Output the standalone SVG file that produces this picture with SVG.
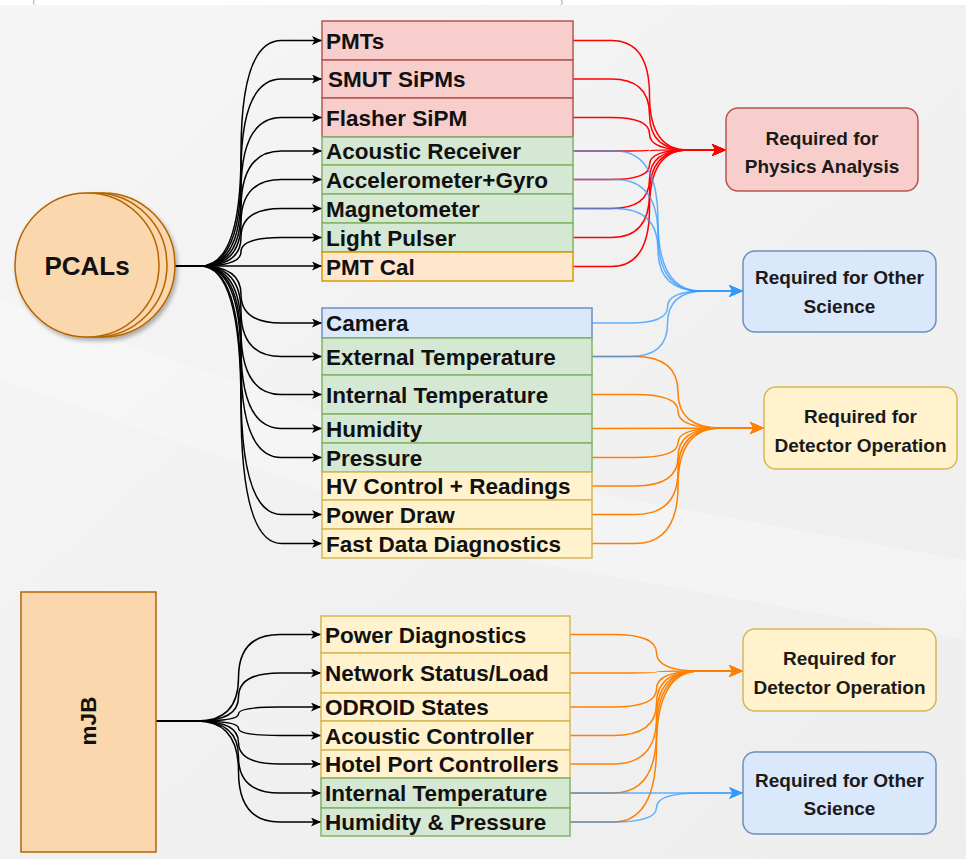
<svg xmlns="http://www.w3.org/2000/svg" width="966" height="859" viewBox="0 0 966 859">
  <defs>
    <linearGradient id="bg" x1="0" y1="0" x2="1" y2="1">
      <stop offset="0" stop-color="#f6f6f6"/>
      <stop offset="0.5" stop-color="#f1f1f1"/>
      <stop offset="1" stop-color="#eeeeee"/>
    </linearGradient>
    <filter id="shadow" x="-20%" y="-20%" width="150%" height="150%">
      <feDropShadow dx="2" dy="3" stdDeviation="2" flood-color="#000" flood-opacity="0.3"/>
    </filter>
    <marker id="arrowBlack" viewBox="0 0 10 9" refX="10" refY="4.5" markerWidth="10" markerHeight="9" markerUnits="userSpaceOnUse" orient="auto">
      <path d="M0,0 L10,4.5 L0,9 L2.5,4.5 Z" fill="#000"/>
    </marker>
    <marker id="arrowRed" viewBox="0 0 14 12" refX="14" refY="6" markerWidth="14" markerHeight="12" markerUnits="userSpaceOnUse" orient="auto">
      <path d="M0,0 L14,6 L0,12 L3.5,6 Z" fill="#ff0000"/>
    </marker>
    <marker id="arrowBlue" viewBox="0 0 14 12" refX="14" refY="6" markerWidth="14" markerHeight="12" markerUnits="userSpaceOnUse" orient="auto">
      <path d="M0,0 L14,6 L0,12 L3.5,6 Z" fill="#3399ff"/>
    </marker>
    <marker id="arrowOrange" viewBox="0 0 14 12" refX="14" refY="6" markerWidth="14" markerHeight="12" markerUnits="userSpaceOnUse" orient="auto">
      <path d="M0,0 L14,6 L0,12 L3.5,6 Z" fill="#ff8000"/>
    </marker>
    <style>
      .lbl { font-family: "Liberation Sans", Arial, sans-serif; font-weight: bold; font-size: 22.5px; fill: #111; }
      .tgt { font-family: "Liberation Sans", Arial, sans-serif; font-weight: bold; font-size: 19px; fill: #1a1a1a; text-anchor: middle; }
      .red { fill: #f8cecc; stroke: #b85450; stroke-width: 1.5; }
      .green { fill: #d5e8d4; stroke: #82b366; stroke-width: 1.5; }
      .peach { fill: #ffe6cc; stroke: #d79b00; stroke-width: 1.5; }
      .blue { fill: #dae8fc; stroke: #6c8ebf; stroke-width: 1.5; }
      .yellow { fill: #fff2cc; stroke: #d6b656; stroke-width: 1.5; }
      .src { fill: #fad7ac; stroke: #b46504; stroke-width: 1.5; }
      .k { fill: none; stroke: #000; stroke-width: 1.5; marker-end: url(#arrowBlack); }
      .r { fill: none; stroke: #ff0000; stroke-width: 1.5; marker-end: url(#arrowRed); }
      .b { fill: none; stroke: #3399ff; stroke-width: 1.5; stroke-opacity: 0.75; marker-end: url(#arrowBlue); }
      .o { fill: none; stroke: #ff8000; stroke-width: 1.5; marker-end: url(#arrowOrange); }
    </style>
  </defs>

  <!-- page -->
  <rect x="0" y="0" width="966" height="859" fill="url(#bg)"/>
  <polygon points="0,300 0,380 260,470 520,560 966,640 966,560 520,480" fill="#ffffff" opacity="0.25"/>
  <rect x="0" y="0" width="966" height="5" fill="#ffffff"/>
  <text x="33" y="3.8" font-family="Liberation Sans, Arial, sans-serif" font-size="4.5" fill="#111">(</text>
  <text x="561" y="3.8" font-family="Liberation Sans, Arial, sans-serif" font-size="4.5" fill="#111">)</text>

  <!-- connectors -->
  <g id="connectors">
    <!-- PCALs fan-out -->
    <path class="k" d="M160,266 L200.5,266 Q241,266 241,153.25 Q241,40.5 281.5,40.5 L322,40.5"/>
    <path class="k" d="M160,266 L200.5,266 Q241,266 241,172.5 Q241,79 281.5,79 L322,79"/>
    <path class="k" d="M160,266 L200.5,266 Q241,266 241,191.75 Q241,117.5 281.5,117.5 L322,117.5"/>
    <path class="k" d="M160,266 L200.5,266 Q241,266 241,208.5 Q241,151 281.5,151 L322,151"/>
    <path class="k" d="M160,266 L200.5,266 Q241,266 241,222.75 Q241,179.5 281.5,179.5 L322,179.5"/>
    <path class="k" d="M160,266 L200.5,266 Q241,266 241,237.25 Q241,208.5 281.5,208.5 L322,208.5"/>
    <path class="k" d="M160,266 L200.5,266 Q241,266 241,251.75 Q241,237.5 281.5,237.5 L322,237.5"/>
    <path class="k" d="M160,266 L322,266"/>
    <path class="k" d="M160,266 L200.5,266 Q241,266 241,294.5 Q241,323 281.5,323 L322,323"/>
    <path class="k" d="M160,266 L200.5,266 Q241,266 241,311.25 Q241,356.5 281.5,356.5 L322,356.5"/>
    <path class="k" d="M160,266 L200.5,266 Q241,266 241,330.25 Q241,394.5 281.5,394.5 L322,394.5"/>
    <path class="k" d="M160,266 L200.5,266 Q241,266 241,347.25 Q241,428.5 281.5,428.5 L322,428.5"/>
    <path class="k" d="M160,266 L200.5,266 Q241,266 241,361.75 Q241,457.5 281.5,457.5 L322,457.5"/>
    <path class="k" d="M160,266 L200.5,266 Q241,266 241,390.25 Q241,514.5 281.5,514.5 L322,514.5"/>
    <path class="k" d="M160,266 L200.5,266 Q241,266 241,404.75 Q241,543.5 281.5,543.5 L322,543.5"/>

    <!-- mJB fan-out -->
    <path class="k" d="M156,721 L197.25,721 Q238.5,721 238.5,677.75 Q238.5,634.5 279.75,634.5 L321,634.5"/>
    <path class="k" d="M156,721 L197.25,721 Q238.5,721 238.5,697 Q238.5,673 279.75,673 L321,673"/>
    <path class="k" d="M156,721 L197.25,721 Q238.5,721 238.5,714 Q238.5,707 279.75,707 L321,707"/>
    <path class="k" d="M156,721 L197.25,721 Q238.5,721 238.5,728.25 Q238.5,735.5 279.75,735.5 L321,735.5"/>
    <path class="k" d="M156,721 L197.25,721 Q238.5,721 238.5,742.5 Q238.5,764 279.75,764 L321,764"/>
    <path class="k" d="M156,721 L197.25,721 Q238.5,721 238.5,757 Q238.5,793 279.75,793 L321,793"/>
    <path class="k" d="M156,721 L197.25,721 Q238.5,721 238.5,771.5 Q238.5,822 279.75,822 L321,822"/>

    <!-- to Physics Analysis -->
    <path class="r" d="M573,40.5 L611.25,40.5 Q649.5,40.5 649.5,95.25 Q649.5,150 687.75,150 L726,150"/>
    <path class="r" d="M573,79 L611.25,79 Q649.5,79 649.5,114.5 Q649.5,150 687.75,150 L726,150"/>
    <path class="r" d="M573,117.5 L611.25,117.5 Q649.5,117.5 649.5,133.75 Q649.5,150 687.75,150 L726,150"/>
    <path class="r" d="M573,151 L611.25,151 Q649.5,151 649.5,150.5 Q649.5,150 687.75,150 L726,150"/>
    <path class="r" d="M573,179.5 L611.25,179.5 Q649.5,179.5 649.5,164.75 Q649.5,150 687.75,150 L726,150"/>
    <path class="r" d="M573,208.5 L611.25,208.5 Q649.5,208.5 649.5,179.25 Q649.5,150 687.75,150 L726,150"/>
    <path class="r" d="M573,237.5 L611.25,237.5 Q649.5,237.5 649.5,193.75 Q649.5,150 687.75,150 L726,150"/>
    <path class="r" d="M573,266.5 L611.25,266.5 Q649.5,266.5 649.5,208.25 Q649.5,150 687.75,150 L726,150"/>

    <!-- to Detector Operation (PCALs) -->
    <path class="o" d="M592,356.5 L635,356.5 Q678,356.5 678,392.25 Q678,428 721,428 L764,428"/>
    <path class="o" d="M592,394.5 L635,394.5 Q678,394.5 678,411.25 Q678,428 721,428 L764,428"/>
    <path class="o" d="M592,428.5 L764,428"/>
    <path class="o" d="M592,457.5 L635,457.5 Q678,457.5 678,442.75 Q678,428 721,428 L764,428"/>
    <path class="o" d="M592,486 L635,486 Q678,486 678,457 Q678,428 721,428 L764,428"/>
    <path class="o" d="M592,514.5 L635,514.5 Q678,514.5 678,471.25 Q678,428 721,428 L764,428"/>
    <path class="o" d="M592,543.5 L635,543.5 Q678,543.5 678,485.75 Q678,428 721,428 L764,428"/>

    <!-- to Other Science (PCALs) -->
    <path class="b" d="M573,151 L615.5,151 Q658,151 658,221 Q658,291 700.5,291 L743,291"/>
    <path class="b" d="M573,179.5 L615.5,179.5 Q658,179.5 658,235.25 Q658,291 700.5,291 L743,291"/>
    <path class="b" d="M573,208.5 L615.5,208.5 Q658,208.5 658,249.75 Q658,291 700.5,291 L743,291"/>
    <path class="b" d="M592,323 L629.75,323 Q667.5,323 667.5,307 Q667.5,291 705.25,291 L743,291"/>
    <path class="b" d="M592,356.5 L629.75,356.5 Q667.5,356.5 667.5,323.75 Q667.5,291 705.25,291 L743,291"/>

    <!-- to Detector Operation (mJB) -->
    <path class="o" d="M570,634.5 L613.25,634.5 Q656.5,634.5 656.5,652.75 Q656.5,671 699.75,671 L743,671"/>
    <path class="o" d="M570,673 L613.25,673 Q656.5,673 656.5,672 Q656.5,671 699.75,671 L743,671"/>
    <path class="o" d="M570,707 L613.25,707 Q656.5,707 656.5,689 Q656.5,671 699.75,671 L743,671"/>
    <path class="o" d="M570,735.5 L613.25,735.5 Q656.5,735.5 656.5,703.25 Q656.5,671 699.75,671 L743,671"/>
    <path class="o" d="M570,764 L613.25,764 Q656.5,764 656.5,717.5 Q656.5,671 699.75,671 L743,671"/>
    <path class="o" d="M570,793 L613.25,793 Q656.5,793 656.5,732 Q656.5,671 699.75,671 L743,671"/>
    <path class="o" d="M570,822 L613.25,822 Q656.5,822 656.5,746.5 Q656.5,671 699.75,671 L743,671"/>

    <!-- to Other Science (mJB) -->
    <path class="b" d="M570,793 L743,793"/>
    <path class="b" d="M570,822 L613.25,822 Q656.5,822 656.5,807.5 Q656.5,793 699.75,793 L743,793"/>
  </g>

  <!-- sources -->
  <g id="pcals">
    <g filter="url(#shadow)">
      <circle class="src" cx="103" cy="265" r="72"/>
      <circle class="src" cx="95" cy="265" r="72"/>
      <circle class="src" cx="87" cy="265" r="72"/>
    </g>
    <text x="87" y="275" font-family="Liberation Sans, Arial, sans-serif" font-weight="bold" font-size="26" fill="#111" text-anchor="middle">PCALs</text>
  </g>

  <g id="mjb">
    <rect class="src" x="21" y="592" width="135" height="260"/>
    <text transform="translate(88,721) rotate(-90)" x="0" y="8" font-family="Liberation Sans, Arial, sans-serif" font-weight="bold" font-size="22.5" fill="#111" text-anchor="middle">mJB</text>
  </g>

  <!-- PCALs channels -->
  <g id="pmts"><rect class="red" x="322" y="21" width="251" height="39"/><text class="lbl" x="326" y="49">PMTs</text></g>
  <g id="smut-sipms"><rect class="red" x="322" y="60" width="251" height="38"/><text class="lbl" x="328" y="87">SMUT SiPMs</text></g>
  <g id="flasher-sipm"><rect class="red" x="322" y="98" width="251" height="39"/><text class="lbl" x="326" y="125.5">Flasher SiPM</text></g>
  <g id="acoustic-receiver"><rect class="green" x="322" y="137" width="251" height="28"/><text class="lbl" x="326" y="159">Acoustic Receiver</text></g>
  <g id="accelerometer-gyro"><rect class="green" x="322" y="165" width="251" height="29"/><text class="lbl" x="326" y="187.5">Accelerometer+Gyro</text></g>
  <g id="magnetometer"><rect class="green" x="322" y="194" width="251" height="29"/><text class="lbl" x="326" y="216.5">Magnetometer</text></g>
  <g id="light-pulser"><rect class="green" x="322" y="223" width="251" height="29"/><text class="lbl" x="326" y="245.5">Light Pulser</text></g>
  <g id="pmt-cal"><rect class="peach" x="322" y="252" width="251" height="29"/><text class="lbl" x="326" y="274.5">PMT Cal</text></g>

  <g id="camera"><rect class="blue" x="322" y="308" width="270" height="30"/><text class="lbl" x="326" y="331">Camera</text></g>
  <g id="external-temperature"><rect class="green" x="322" y="338" width="270" height="37"/><text class="lbl" x="326" y="364.5">External Temperature</text></g>
  <g id="internal-temperature"><rect class="green" x="322" y="375" width="270" height="39"/><text class="lbl" x="326" y="402.5">Internal Temperature</text></g>
  <g id="humidity"><rect class="green" x="322" y="414" width="270" height="29"/><text class="lbl" x="326" y="436.5">Humidity</text></g>
  <g id="pressure"><rect class="green" x="322" y="443" width="270" height="29"/><text class="lbl" x="326" y="465.5">Pressure</text></g>
  <g id="hv-control"><rect class="yellow" x="322" y="472" width="270" height="28"/><text class="lbl" x="326" y="494">HV Control + Readings</text></g>
  <g id="power-draw"><rect class="yellow" x="322" y="500" width="270" height="29"/><text class="lbl" x="326" y="522.5">Power Draw</text></g>
  <g id="fast-data-diagnostics"><rect class="yellow" x="322" y="529" width="270" height="29"/><text class="lbl" x="326" y="551.5">Fast Data Diagnostics</text></g>

  <!-- mJB channels -->
  <g id="power-diagnostics"><rect class="yellow" x="321" y="616" width="249" height="37"/><text class="lbl" x="325" y="642.5">Power Diagnostics</text></g>
  <g id="network-status"><rect class="yellow" x="321" y="653" width="249" height="40"/><text class="lbl" x="325" y="681">Network Status/Load</text></g>
  <g id="odroid-states"><rect class="yellow" x="321" y="693" width="249" height="28"/><text class="lbl" x="325" y="715">ODROID States</text></g>
  <g id="acoustic-controller"><rect class="yellow" x="321" y="721" width="249" height="29"/><text class="lbl" x="325" y="743.5">Acoustic Controller</text></g>
  <g id="hotel-port-controllers"><rect class="yellow" x="321" y="750" width="249" height="28"/><text class="lbl" x="325" y="772">Hotel Port Controllers</text></g>
  <g id="mjb-internal-temperature"><rect class="green" x="321" y="778" width="249" height="30"/><text class="lbl" x="325" y="801">Internal Temperature</text></g>
  <g id="humidity-pressure"><rect class="green" x="321" y="808" width="249" height="28"/><text class="lbl" x="325" y="830">Humidity &amp; Pressure</text></g>

  <!-- destinations -->
  <g id="physics-analysis">
    <rect class="red" x="726" y="108" width="192" height="83" rx="12"/>
    <text class="tgt" x="822" y="145">Required for</text>
    <text class="tgt" x="822" y="173">Physics Analysis</text>
  </g>
  <g id="other-science-pcals">
    <rect class="blue" x="743" y="251" width="193" height="81" rx="12"/>
    <text class="tgt" x="839.5" y="284">Required for Other</text>
    <text class="tgt" x="839.5" y="313">Science</text>
  </g>
  <g id="detector-operation-pcals">
    <rect class="yellow" x="764" y="387" width="193" height="82" rx="12"/>
    <text class="tgt" x="860.5" y="423">Required for</text>
    <text class="tgt" x="860.5" y="452">Detector Operation</text>
  </g>
  <g id="detector-operation-mjb">
    <rect class="yellow" x="743" y="629" width="193" height="82" rx="12"/>
    <text class="tgt" x="839.5" y="665">Required for</text>
    <text class="tgt" x="839.5" y="694">Detector Operation</text>
  </g>
  <g id="other-science-mjb">
    <rect class="blue" x="743" y="752" width="193" height="82" rx="12"/>
    <text class="tgt" x="839.5" y="787">Required for Other</text>
    <text class="tgt" x="839.5" y="815">Science</text>
  </g>
</svg>
